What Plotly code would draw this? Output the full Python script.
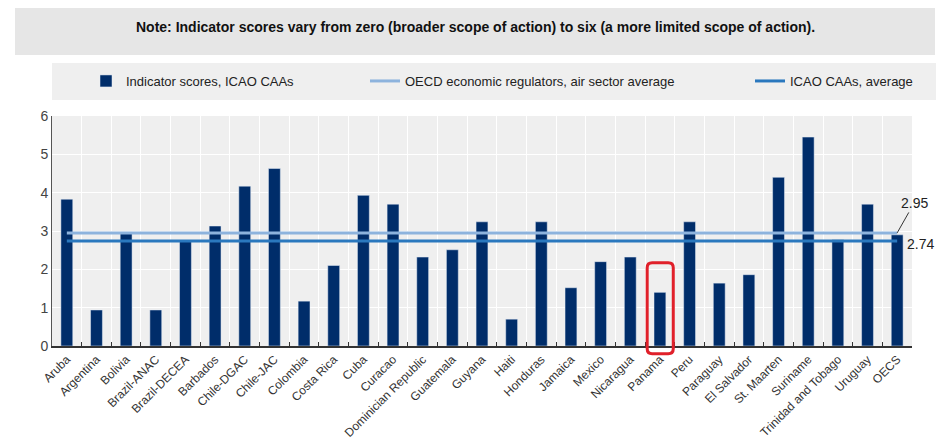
import plotly.graph_objects as go

categories = ["Aruba", "Argentina", "Bolivia", "Brazil-ANAC", "Brazil-DECEA", "Barbados",
              "Chile-DGAC", "Chile-JAC", "Colombia", "Costa Rica", "Cuba", "Curacao",
              "Dominician Republic", "Guatemala", "Guyana", "Haiti", "Honduras", "Jamaica",
              "Mexico", "Nicaragua", "Panama", "Peru", "Paraguay", "El Salvador",
              "St. Maarten", "Suriname", "Trinidad and Tobago", "Uruguay", "OECS"]
scores = [3.83, 0.94, 2.97, 0.94, 2.76, 3.13, 4.17, 4.63, 1.17, 2.10, 3.93, 3.70,
          2.32, 2.51, 3.24, 0.70, 3.24, 1.52, 2.20, 2.32, 1.40, 3.24, 1.64, 1.86,
          4.40, 5.45, 2.77, 3.70, 2.90]
oecd_avg = 2.95
icao_avg = 2.74
highlight = "Panama"
y_ticks = [0, 1, 2, 3, 4, 5, 6]

NAVY = "#002D6A"
LIGHT = "#8DB3DD"
MID = "#2A78BE"
FONT = "Liberation Sans Narrow, Arial Narrow, Liberation Sans, Arial"

idx = list(range(len(categories)))
ends = [idx[0], idx[-1]]
xr = [-0.5, len(categories) - 0.5]
yr = [0, 6]

fig = go.Figure()
fig.add_trace(go.Bar(x=idx, y=scores, marker_color=NAVY, width=0.4,
                     name="Indicator scores, ICAO CAAs", legend="legend"))
fig.add_trace(go.Scatter(x=ends, y=[oecd_avg] * 2, mode="lines",
                         line=dict(color=LIGHT, width=3),
                         name="OECD economic regulators, air sector average", legend="legend2"))
fig.add_trace(go.Scatter(x=ends, y=[icao_avg] * 2, mode="lines",
                         line=dict(color=MID, width=3),
                         name="ICAO CAAs, average", legend="legend3"))

# page has an 8px body margin; screen plot area: x 52..912 px, y 116..346 px
OFF = 8
W, H = 948 - OFF, 446 - OFF
L, T = 52 - OFF, 116 - OFF
R = W - (912 - OFF)
B = H - (346 - OFF)
pw, ph = W - L - R, H - T - B
def px(s): return (s - OFF - L) / pw
def py(s): return (H - B - (s - OFF)) / ph
def dx(v): return (v - xr[0]) / (xr[1] - xr[0])
def dy(v): return (v - yr[0]) / (yr[1] - yr[0])

shapes = [
    dict(type="rect", xref="paper", yref="paper", x0=px(15), x1=px(935), y0=py(55), y1=py(8),
         fillcolor="#E6E6E6", line=dict(width=0), layer="below"),
    dict(type="rect", xref="paper", yref="paper", x0=px(52), x1=px(936), y0=py(100), y1=py(63),
         fillcolor="#EFEFEF", line=dict(width=0), layer="below"),
]
# rounded highlight around the Panama bar (paper coords so it is not clipped)
hi = categories.index(highlight)
hv = scores[hi]
x0, x1 = dx(hi - 0.43), dx(hi + 0.45)
y0, y1 = dy(-0.2), dy(hv + 0.77)
rx, ry = dx(0.17) - dx(0), dy(0.13) - dy(0)
path = (f"M {x0+rx},{y0} L {x1-rx},{y0} Q {x1},{y0} {x1},{y0+ry} L {x1},{y1-ry} "
        f"Q {x1},{y1} {x1-rx},{y1} L {x0+rx},{y1} Q {x0},{y1} {x0},{y1-ry} "
        f"L {x0},{y0+ry} Q {x0},{y0} {x0+rx},{y0} Z")
shapes.append(dict(type="path", xref="paper", yref="paper", path=path,
                   line=dict(color="#E0202A", width=3)))

annotations = [
    dict(xref="paper", yref="paper", x=px(475), y=py(27), showarrow=False,
         xanchor="center", yanchor="middle",
         text="<b>Note: Indicator scores vary from zero (broader scope of action) to six (a more limited scope of action).</b>",
         font=dict(family=FONT, size=14, color="#111")),
    dict(x=idx[-1], y=oecd_avg, xref="x", yref="y", text="2.95", showarrow=True,
         arrowhead=0, arrowwidth=1, arrowcolor="#333", ax=17, ay=-30, xanchor="center",
         font=dict(family=FONT, size=14, color="#222")),
    dict(x=idx[-1], y=icao_avg, xref="x", yref="y", text="2.74", showarrow=False,
         xshift=23, yshift=-3, font=dict(family=FONT, size=14, color="#222")),
]

leg_common = dict(orientation="h", bgcolor="rgba(0,0,0,0)", yanchor="middle",
                  font=dict(family=FONT, size=13, color="#222"), xanchor="left")
fig.update_layout(
    width=W, height=H,
    margin=dict(l=L, r=R, t=T, b=B, autoexpand=False),
    paper_bgcolor="white", plot_bgcolor="#EFEFEF",
    font=dict(family=FONT),
    showlegend=True,
    legend=dict(x=px(86), y=py(81), **leg_common),
    legend2=dict(x=px(365), y=py(81), **leg_common),
    legend3=dict(x=px(750), y=py(81), **leg_common),
    shapes=shapes, annotations=annotations,
    xaxis=dict(range=xr, tickvals=idx, ticktext=categories, automargin=False,
               tickangle=-45, ticks="", showgrid=False, zeroline=False,
               showline=True, linecolor="#333", linewidth=1.5,
               tickfont=dict(family=FONT, size=12, color="#333"),
               minor=dict(tickvals=[i - 0.5 for i in idx[1:]], ticks="inside", ticklen=4,
                          tickcolor="#333", showgrid=True, gridcolor="white", gridwidth=1)),
    yaxis=dict(range=yr, tickvals=y_ticks, showgrid=True, gridcolor="white", gridwidth=1,
               automargin=False, zeroline=False, showline=True, linecolor="#555", linewidth=1,
               tickfont=dict(family="Liberation Sans, Arial", size=14, color="#444")),
)

fig.write_html("out.html")
